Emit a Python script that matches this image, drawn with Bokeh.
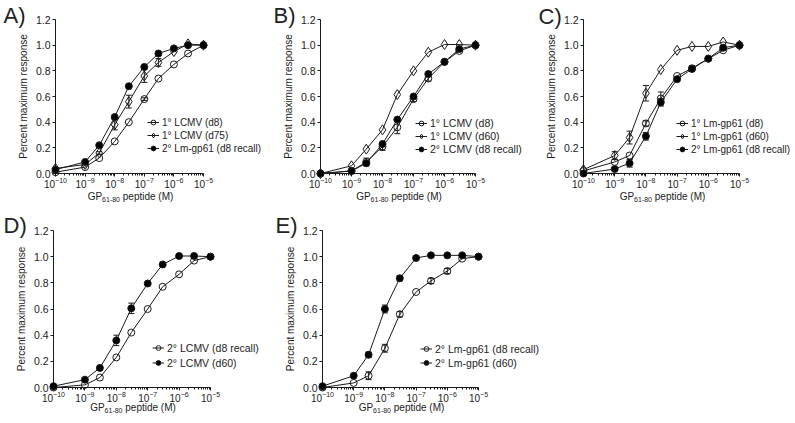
from bokeh.plotting import figure
from bokeh.models import (Range1d, FixedTicker, LogTickFormatter, NumeralTickFormatter,
                          Legend, LegendItem, Whisker, TeeHead, ColumnDataSource)
from bokeh.core.properties import value
from bokeh.layouts import column, row
from bokeh.embed import file_html
from bokeh.resources import INLINE

FONT = "Liberation Sans"
INK = "#1a1a1a"

# ---------------- data ----------------
conc = [1e-10, 1e-9, 3e-9, 1e-8, 3e-8, 1e-7, 3e-7, 1e-6, 3e-6, 1e-5]
x_major = [1e-10, 1e-9, 1e-8, 1e-7, 1e-6, 1e-5]
y_major = [0.0, 0.2, 0.4, 0.6, 0.8, 1.0, 1.2]
y_label = "Percent maximum response"
x_label_main = "GP"
x_label_sub = "61-80"
x_label_tail = "peptide (M)"

# Panel A
a_names = ["1° LCMV (d8)", "1° LCMV (d75)", "2° Lm-gp61 (d8 recall)"]
a_d8 = [0.01, 0.05, 0.12, 0.25, 0.40, 0.58, 0.74, 0.85, 0.935, 1.0]
a_d8_err = [0, 0, 0, 0, 0, 0.01, 0, 0, 0, 0]
a_d75 = [0.04, 0.07, 0.16, 0.38, 0.56, 0.76, 0.865, 0.95, 1.01, 1.0]
a_d75_err = [0, 0, 0.01, 0.04, 0.05, 0.05, 0.03, 0, 0, 0]
a_recall = [0.03, 0.09, 0.22, 0.44, 0.68, 0.83, 0.935, 0.975, 1.0, 1.0]
a_recall_err = [0, 0, 0, 0, 0, 0, 0, 0, 0, 0]

# Panel B
b_names = ["1° LCMV (d8)", "1° LCMV (d60)", "2° LCMV (d8 recall)"]
b_d8 = [0.0, 0.02, 0.09, 0.21, 0.36, 0.58, 0.74, 0.87, 0.955, 1.0]
b_d8_err = [0, 0, 0.03, 0.03, 0.05, 0.02, 0.02, 0, 0, 0]
b_d60 = [0.0, 0.06, 0.19, 0.34, 0.615, 0.80, 0.945, 1.005, 1.005, 1.0]
b_d60_err = [0, 0, 0, 0, 0, 0, 0, 0, 0, 0]
b_recall = [0.0, 0.02, 0.08, 0.23, 0.42, 0.60, 0.775, 0.87, 0.97, 1.0]
b_recall_err = [0, 0, 0, 0, 0, 0, 0, 0, 0, 0]

# Panel C
c_names = ["1° Lm-gp61 (d8)", "1° Lm-gp61 (d60)", "2° Lm-gp61 (d8 recall)"]
c_d8 = [0.02, 0.09, 0.14, 0.39, 0.585, 0.76, 0.82, 0.895, 0.96, 1.0]
c_d8_err = [0, 0, 0, 0.02, 0.05, 0, 0.02, 0, 0, 0]
c_d60 = [0.03, 0.14, 0.28, 0.625, 0.81, 0.96, 0.99, 0.99, 1.025, 1.0]
c_d60_err = [0, 0.03, 0.05, 0.06, 0, 0, 0, 0, 0, 0]
c_recall = [0.0, 0.035, 0.08, 0.29, 0.555, 0.735, 0.815, 0.895, 0.98, 1.0]
c_recall_err = [0, 0, 0.03, 0.03, 0.03, 0, 0.02, 0, 0.02, 0]

# Panel D
d_names = ["2° LCMV (d8 recall)", "2° LCMV (d60)"]
d_recall = [0.0, 0.02, 0.076, 0.23, 0.42, 0.60, 0.77, 0.865, 0.97, 1.0]
d_recall_err = [0, 0, 0, 0, 0, 0, 0, 0, 0, 0]
d_d60 = [0.01, 0.06, 0.15, 0.36, 0.605, 0.795, 0.94, 1.005, 1.005, 1.0]
d_d60_err = [0, 0, 0, 0.04, 0.04, 0, 0, 0, 0, 0]

# Panel E
e_names = ["2° Lm-gp61 (d8 recall)", "2° Lm-gp61 (d60)"]
e_recall = [0.0, 0.035, 0.09, 0.30, 0.56, 0.73, 0.815, 0.89, 0.985, 1.0]
e_recall_err = [0, 0, 0.03, 0.03, 0.02, 0, 0.02, 0.02, 0, 0]
e_d60 = [0.01, 0.09, 0.25, 0.60, 0.835, 0.99, 1.01, 1.01, 1.01, 1.0]
e_d60_err = [0, 0, 0.02, 0.03, 0.02, 0, 0, 0, 0, 0]

# ---------------- styles ----------------
STYLES = {
    "open_circle": dict(marker="circle", size=7, fill_color=None),
    "open_diamond": dict(marker="diamond", size=10, fill_color=None),
    "filled": dict(marker="circle", size=7, fill_color="black"),
}

minor = [m * t for t in x_major[:-1] for m in range(2, 10)]
X0, X1 = x_major[0], x_major[-1]
Y0, Y1 = y_major[0], y_major[-1]


def make_panel(letter, names, ys, errs, styles, g):
    left, fw, ext, right = g["left"], g["fw"], g["ext"], g["right"]
    top, fh, bottom = g["top"], g["fh"], g["bottom"]
    # extend the frame to the right (room for the legend); axis is bounded to the data decades
    decades = 5.0 * (fw + ext) / fw
    x_end = 10 ** (-10 + decades)
    p = figure(width=left + fw + ext + right, height=top + fh + bottom,
               x_axis_type="log", x_range=Range1d(X0, x_end), y_range=Range1d(Y0, Y1),
               min_border_left=left, min_border_right=right,
               min_border_top=top, min_border_bottom=bottom,
               output_backend="svg", toolbar_location=None)
    p.outline_line_color = None
    p.grid.visible = False
    p.background_fill_color = "white"
    p.border_fill_color = "white"

    xa, ya = p.xaxis[0], p.yaxis[0]
    xa.bounds = (X0, X1)
    xa.ticker = FixedTicker(ticks=x_major, minor_ticks=minor)
    xa.formatter = LogTickFormatter()
    ya.ticker = FixedTicker(ticks=y_major)
    ya.formatter = NumeralTickFormatter(format="0.0")
    for ax in (xa, ya):
        ax.axis_line_color = INK
        ax.axis_line_width = 1
        ax.major_tick_line_color = INK
        ax.major_tick_in = 0
        ax.major_tick_out = 3
        ax.major_label_text_font = FONT
        ax.major_label_text_color = "#222222"
        ax.major_label_standoff = 2
    xa.major_label_standoff = 0
    xa.minor_tick_line_color = INK
    xa.minor_tick_in = 0
    xa.minor_tick_out = 2
    xa.major_label_text_font_size = "10px"
    ya.minor_tick_line_color = None
    ya.major_label_text_font_size = "10.5px"
    ya.axis_label = y_label
    ya.axis_label_text_font = FONT
    ya.axis_label_text_font_style = "normal"
    ya.axis_label_text_font_size = "10px"
    ya.axis_label_text_color = "#222222"
    ya.axis_label_standoff = 4

    items = []
    for name, y, e, st in zip(names, ys, errs, styles):
        s = STYLES[st]
        src = ColumnDataSource(dict(x=conc, y=y))
        lr = p.line("x", "y", source=src, line_color=INK, line_width=1, level="overlay")
        sr = p.scatter("x", "y", source=src, marker=s["marker"], size=s["size"],
                       fill_color=s["fill_color"], line_color=INK, line_width=1,
                       level="overlay")
        bx = [conc[i] for i in range(len(e)) if e[i] > 0]
        if bx:
            up = [y[i] + e[i] for i in range(len(e)) if e[i] > 0]
            lo = [y[i] - e[i] for i in range(len(e)) if e[i] > 0]
            wsrc = ColumnDataSource(dict(base=bx, upper=up, lower=lo))
            w = Whisker(base="base", upper="upper", lower="lower", source=wsrc,
                        dimension="height", line_color=INK, line_width=1,
                        upper_head=TeeHead(size=6, line_color=INK, line_width=1),
                        lower_head=TeeHead(size=6, line_color=INK, line_width=1))
            p.add_layout(w)
        items.append(LegendItem(label=name, renderers=[lr, sr]))

    leg = Legend(items=items, location=g["leg"], padding=0, margin=0,
                 spacing=g["leg_sp"], glyph_width=12, glyph_height=g["leg_gh"],
                 label_height=g["leg_gh"], label_width=10, label_standoff=3,
                 label_text_font=FONT, label_text_font_size=g["leg_fs"],
                 label_text_color="#222222",
                 border_line_alpha=0, background_fill_alpha=0)
    p.add_layout(leg)

    # texts outside the frame: text glyphs anchored at the frame's bottom-left corner,
    # offset in screen pixels (figure-relative px -> offsets from the corner)
    cx, cy = left, top + fh

    def txt(px, py, t, size):
        p.text(x=[X0], y=[Y0], text=[t], x_offset=px - cx, y_offset=py - cy,
               text_font=value(FONT), text_font_size=value(size), text_color="#222222",
               text_align="left", text_baseline="alphabetic", level="overlay")

    txt(g["letter"][0], g["letter"][1], letter, "22px")

    main_size, sub_size = 10, 7
    w_main = 1.445 * main_size
    w_sub = 2.557 * sub_size
    w_gap = 0.278 * main_size
    w_tail = 5.057 * main_size
    total = w_main + w_sub + w_gap + w_tail
    x0 = left + fw / 2 + 1 - total / 2
    base = top + fh + g["xt"]
    txt(x0, base, x_label_main, f"{main_size}px")
    txt(x0 + w_main, base + 3.3, x_label_sub, f"{sub_size}px")
    txt(x0 + w_main + w_sub + w_gap, base, x_label_tail, f"{main_size}px")
    return p


three = ["open_circle", "open_diamond", "filled"]
two = ["open_circle", "filled"]

gA = dict(left=55, fw=148, ext=60, right=2, top=19, fh=154, bottom=37, leg=(92, 19), leg_sp=1,
          leg_gh=12, leg_fs="10px", letter=(3, 15), xt=23)
gB = dict(left=55, fw=155, ext=53, right=2, top=19, fh=154, bottom=37, leg=(95, 18), leg_sp=1,
          leg_gh=12, leg_fs="10.5px", letter=(8, 15), xt=23)
gC = dict(left=53, fw=156, ext=52, right=2, top=19, fh=154, bottom=37, leg=(93, 18), leg_sp=1,
          leg_gh=12, leg_fs="10px", letter=(8, 16), xt=23)
gD = dict(left=53, fw=157, ext=53, right=2, top=20, fh=157, bottom=33, leg=(99, 18), leg_sp=2,
          leg_gh=13, leg_fs="10.5px", letter=(3, 15), xt=20)
gE = dict(left=57, fw=156, ext=70, right=2, top=20, fh=157, bottom=33, leg=(98, 18), leg_sp=1,
          leg_gh=13, leg_fs="10.5px", letter=(10, 15), xt=20)

pA = make_panel("A)", a_names, [a_d8, a_d75, a_recall], [a_d8_err, a_d75_err, a_recall_err], three, gA)
pB = make_panel("B)", b_names, [b_d8, b_d60, b_recall], [b_d8_err, b_d60_err, b_recall_err], three, gB)
pC = make_panel("C)", c_names, [c_d8, c_d60, c_recall], [c_d8_err, c_d60_err, c_recall_err], three, gC)
pD = make_panel("D)", d_names, [d_recall, d_d60], [d_recall_err, d_d60_err], two, gD)
pE = make_panel("E)", e_names, [e_recall, e_d60], [e_recall_err, e_d60_err], two, gE)

layout = column(row(pA, pB, pC, spacing=0), row(pD, pE, spacing=0), spacing=0)

open("out.html", "w").write(file_html(layout, INLINE))
